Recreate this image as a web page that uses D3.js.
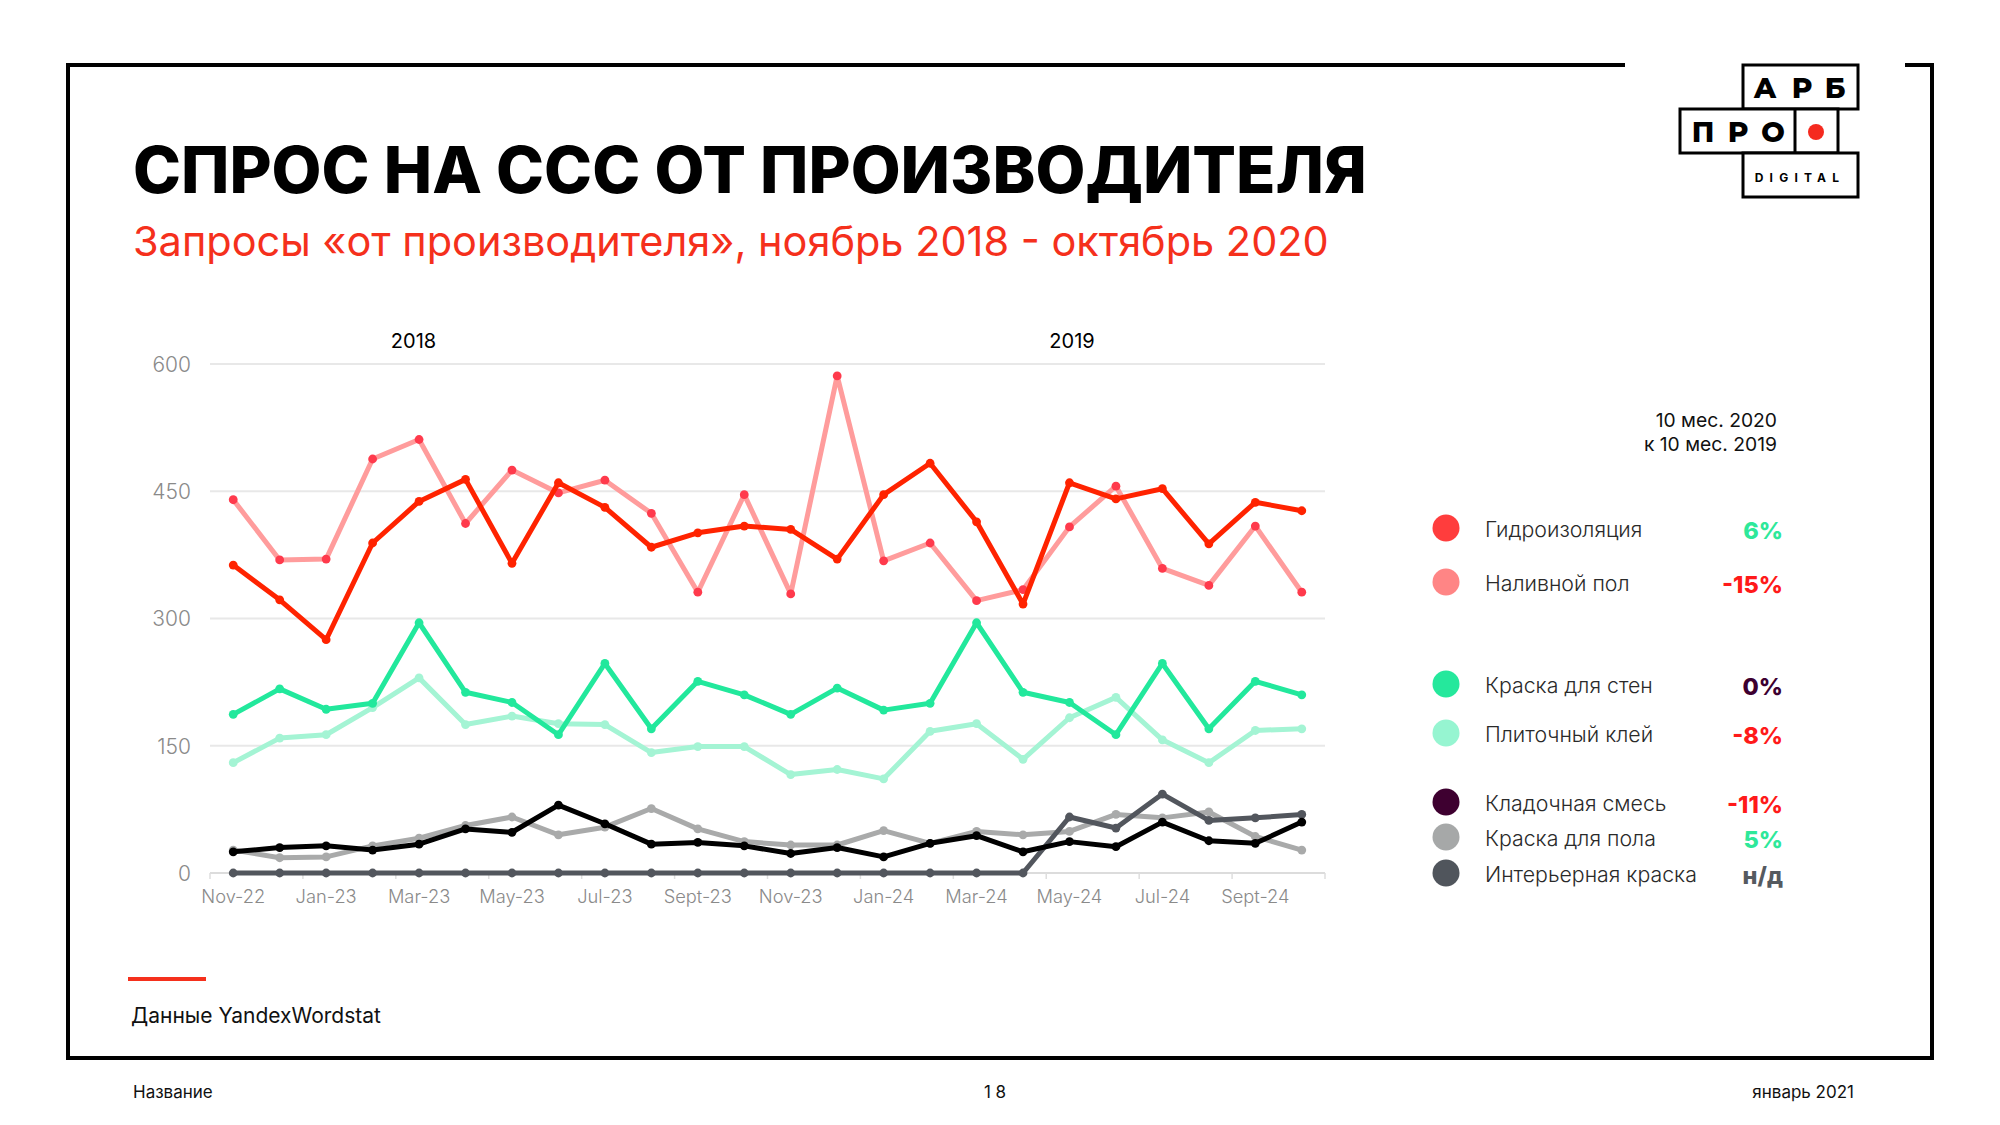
<!DOCTYPE html>
<html><head><meta charset="utf-8">
<script src="https://cdn.jsdelivr.net/npm/d3@7"></script>
<style>
html,body{margin:0;padding:0;background:#fff;}
svg{display:block;font-family:Inter,"Open Sans",sans-serif;}
</style></head>
<body>
<svg id="c" width="2000" height="1125"></svg>
<script>
// ---------- DATA ----------
const months = ["Nov-22","Dec-22","Jan-23","Feb-23","Mar-23","Apr-23","May-23","Jun-23","Jul-23","Aug-23","Sept-23","Oct-23",
                "Nov-23","Dec-23","Jan-24","Feb-24","Mar-24","Apr-24","May-24","Jun-24","Jul-24","Aug-24","Sept-24","Oct-24"];
const tickLabels = ["Nov-22","Jan-23","Mar-23","May-23","Jul-23","Sept-23","Nov-23","Jan-24","Mar-24","May-24","Jul-24","Sept-24"];
const yTicks = [0,150,300,450,600];
const yearLabels = ["2018","2019"];

const gidroizolyaciya = [363,322,275,389,438,464,365,460,431,384,401,409,405,370,446,483,414,317,460,441,453,388,437,427];
const nalivnoyPol     = [440,369,370,488,511,412,475,448,463,424,331,446,329,586,368,389,321,334,408,456,359,339,409,331];
const kraskaSten      = [187,217,193,200,295,213,201,163,247,170,226,210,187,218,192,200,295,213,201,163,247,170,226,210];
const plitochnyKley   = [130,159,163,195,230,175,185,176,175,142,149,149,116,122,111,167,176,134,183,207,157,130,168,170];
const kladochnaya     = [25,30,32,27,34,52,48,80,58,34,36,32,23,30,19,35,44,25,37,31,60,38,35,60];
const kraskaPola      = [27,18,19,32,41,56,66,45,54,76,52,37,33,33,50,35,49,45,49,69,65,72,43,27];
const interernaya     = [0,0,0,0,0,0,0,0,0,0,0,0,0,0,0,0,0,0,66,53,93,62,65,69];

const legendNames  = ["Гидроизоляция","Наливной пол","Краска для стен","Плиточный клей","Кладочная смесь","Краска для пола","Интерьерная краска"];
const legendValues = ["6%","-15%","0%","-8%","-11%","5%","н/д"];

// ---------- STYLE ----------
const seriesDefs = [
  {data:nalivnoyPol,   line:"#ff9c9c", dot:"#ff3a4c"},
  {data:gidroizolyaciya,line:"#ff2300", dot:"#ff2300"},
  {data:plitochnyKley, line:"#a4f4d4", dot:"#a4f4d4"},
  {data:kraskaSten,    line:"#22e89c", dot:"#22e89c"},
  {data:kraskaPola,    line:"#a9aaaa", dot:"#a9aaaa"},
  {data:interernaya,   line:"#52565d", dot:"#52565d"},
  {data:kladochnaya,   line:"#000000", dot:"#000000"}
];
const legendColors = ["#ff3d3d","#ff8585","#25e89c","#96f5d1","#3e0030","#a6a8a8","#50555c"];
const valueColors  = ["#2ee89a","#ff1a1a","#3d0030","#ff1a1a","#ff1a1a","#2ee89a","#555a60"];
const legendY = [528,582,684,733,802,837,873];

const svg = d3.select("#c");

// ---------- FRAME ----------
const frame = svg.append("g").attr("stroke","#000").attr("stroke-width",4).attr("fill","none");
frame.append("path").attr("d","M1625,65 H68 V1058 H1932 V65 H1905");

// ---------- LOGO ----------
const logo = svg.append("g");
const lb = logo.append("g").attr("stroke","#000").attr("stroke-width",3).attr("fill","#fff");
lb.append("rect").attr("x",1743).attr("y",65).attr("width",115).attr("height",44);
lb.append("rect").attr("x",1680).attr("y",109).attr("width",158).attr("height",44);
lb.append("rect").attr("x",1743).attr("y",153).attr("width",115).attr("height",44);
lb.append("line").attr("x1",1795).attr("x2",1795).attr("y1",109).attr("y2",153);
const lt = logo.append("g").attr("font-family","Montserrat,Inter,sans-serif").attr("font-weight",800).attr("font-size",28).attr("text-anchor","middle").attr("fill","#000");
[["А",1765],["Р",1802],["Б",1835]].forEach(d=>lt.append("text").attr("x",d[1]).attr("y",98).text(d[0]));
[["П",1703],["Р",1738],["О",1773]].forEach(d=>lt.append("text").attr("x",d[1]).attr("y",142).text(d[0]));
logo.append("circle").attr("cx",1816).attr("cy",132).attr("r",8).attr("fill","#f52a1f");
logo.append("text").attr("x",1800).attr("y",182).attr("text-anchor","middle").attr("font-weight",700)
  .attr("font-size",12).attr("letter-spacing",6.2).attr("fill","#000").text("DIGITAL");

// ---------- TITLES ----------
svg.append("text").attr("x",133).attr("y",193).attr("font-weight",800).attr("font-size",58)
  .attr("fill","#000").attr("id","title").text("СПРОС НА ССС ОТ ПРОИЗВОДИТЕЛЯ");
svg.append("text").attr("x",133).attr("y",256).attr("font-weight",400).attr("font-size",35)
  .attr("fill","#f5301c").attr("id","subtitle").text("Запросы «от производителя», ноябрь 2018 - октябрь 2020");

// ---------- CHART ----------
const x = d3.scaleBand().domain(months).range([210,1325]).padding(0);
const cx = m => x(m) + x.bandwidth()/2;
const y = d3.scaleLinear().domain([0,600]).range([873,364]);

const grid = svg.append("g");
grid.selectAll("line").data(yTicks).join("line")
  .attr("x1",210).attr("x2",1325).attr("y1",d=>y(d)).attr("y2",d=>y(d))
  .attr("stroke",d=>d===0?"#dcdcdc":"#e8e8e8").attr("stroke-width",2);

const yAxis = d3.axisLeft(y).tickValues(yTicks).tickSize(0).tickPadding(0);
const yg = svg.append("g").attr("transform","translate(191,0)").call(yAxis);
yg.select(".domain").remove();
yg.selectAll("text").attr("font-size",21).attr("font-weight",300).attr("fill","#8a8a8a")
  .attr("font-family","Inter,sans-serif").attr("dy","0.35em");

// x tick marks at band edges every 2 months
const edges = months.filter((m,i)=>i%2===0).map(m=>x(m)).concat([x.range()[1]]);
svg.append("g").selectAll("line").data(edges).join("line")
  .attr("x1",d=>d).attr("x2",d=>d).attr("y1",y(0)).attr("y2",y(0)+6)
  .attr("stroke","#dedede").attr("stroke-width",1.5);

const xAxis = d3.axisBottom(x).tickValues(tickLabels).tickSize(0).tickPadding(0);
const xg = svg.append("g").attr("transform","translate(0,"+(y(0))+")").call(xAxis);
xg.select(".domain").remove();
xg.selectAll("text").attr("font-size",18.3).attr("font-weight",300).attr("fill","#8a8a8a")
  .attr("font-family","Inter,sans-serif").attr("dy",0).attr("y",30);

// year labels
svg.append("g").selectAll("text").data(yearLabels).join("text")
  .attr("x",(d,i)=>[413.5,1072][i]).attr("y",348).attr("text-anchor","middle")
  .attr("font-size",20).attr("font-weight",400).attr("fill","#000").text(d=>d);

const line = d3.line().x((d,i)=>cx(months[i])).y(d=>y(d));
seriesDefs.forEach(s=>{
  const g = svg.append("g");
  g.append("path").datum(s.data).attr("d",line).attr("fill","none")
    .attr("stroke",s.line).attr("stroke-width",5).attr("stroke-linejoin","round");
  g.selectAll("circle").data(s.data).join("circle")
    .attr("cx",(d,i)=>cx(months[i])).attr("cy",d=>y(d)).attr("r",4.4).attr("fill",s.dot);
});

// ---------- LEGEND ----------
const hdr = svg.append("g").attr("text-anchor","end").attr("font-size",19.3).attr("fill","#111");
hdr.append("text").attr("x",1777).attr("y",427).text("10 мес. 2020");
hdr.append("text").attr("x",1777).attr("y",451).text("к 10 мес. 2019");

const lg = svg.append("g");
legendNames.forEach((n,i)=>{
  lg.append("circle").attr("cx",1446).attr("cy",legendY[i]).attr("r",13.5).attr("fill",legendColors[i]);
  lg.append("text").attr("x",1485).attr("y",legendY[i]+9).attr("font-size",21.3).attr("font-weight",300)
    .attr("fill","#2a2a2a").text(n);
  lg.append("text").attr("x",1783).attr("y",legendY[i]+11).attr("text-anchor","end").attr("font-size",23.5)
    .attr("font-weight",800).attr("fill",valueColors[i]).text(legendValues[i]);
});

// ---------- FOOTER ----------
svg.append("line").attr("x1",128).attr("x2",206).attr("y1",979).attr("y2",979).attr("stroke","#f5301c").attr("stroke-width",4);
svg.append("text").attr("x",131).attr("y",1023).attr("font-size",21).attr("font-weight",400).attr("fill","#111").text("Данные YandexWordstat");
svg.append("text").attr("x",133).attr("y",1098).attr("font-size",17).attr("fill","#111").text("Название");
svg.append("text").attr("x",995).attr("y",1098).attr("font-size",17).attr("text-anchor","middle").attr("fill","#111").text("1 8");
svg.append("text").attr("x",1854).attr("y",1098).attr("font-size",17).attr("text-anchor","end").attr("fill","#111").text("январь 2021");

// fit title widths to reference
function fitWidth(id, target){
  const el = document.getElementById(id);
  const w = el.getComputedTextLength();
  const fs = parseFloat(el.getAttribute("font-size"));
  el.setAttribute("font-size", (fs*target/w).toFixed(2));
}
fitWidth("title",1234);
fitWidth("subtitle",1196);
</script>
</body></html>
